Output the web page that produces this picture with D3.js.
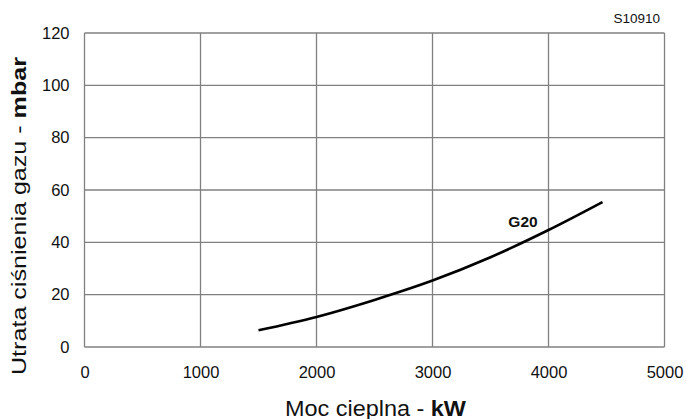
<!DOCTYPE html>
<html><head><meta charset="utf-8">
<script src="https://cdn.jsdelivr.net/npm/d3@7"></script>
<style>body{margin:0;background:#fff}svg{display:block;font-family:"Liberation Sans",Arial,sans-serif}</style>
</head><body>
<svg id="c" width="686" height="419"></svg>
<script>
const xTicks = [0, 1000, 2000, 3000, 4000, 5000];
const yTicks = [0, 20, 40, 60, 80, 100, 120];
const powerKW = [1500, 2000, 2500, 3000, 3500, 4000, 4466];
const pressureG20 = [6.4, 11.5, 18.0, 25.4, 34.3, 44.7, 55.4];
const seriesLabel = "G20";
const codeLabel = "S10910";

const svg = d3.select("#c");
const L = 84.5, R = 664.5, T = 33, B = 347;
const x = d3.scaleLinear().domain([0, 5000]).range([L, R]);
const y = d3.scaleLinear().domain([0, 120]).range([B, T]);

const grid = svg.append("g").attr("stroke", "#808080").attr("stroke-width", 1.3).attr("fill", "none");
xTicks.forEach(v => grid.append("line").attr("x1", x(v)).attr("x2", x(v)).attr("y1", T).attr("y2", B));
yTicks.forEach(v => grid.append("line").attr("x1", L).attr("x2", R).attr("y1", y(v)).attr("y2", y(v)));

const xa = svg.append("g").attr("transform", `translate(0,${B})`)
  .call(d3.axisBottom(x).tickValues(xTicks).tickSize(0).tickPadding(0).tickFormat(d3.format("d")));
xa.select(".domain").remove();
xa.attr("font-size", 16.5).attr("font-family", "Liberation Sans, Arial, sans-serif");
xa.selectAll("text").attr("dy", null).attr("y", 31).attr("fill", "#111");

const ya = svg.append("g").attr("transform", `translate(${L},0)`)
  .call(d3.axisLeft(y).tickValues(yTicks).tickSize(0).tickPadding(15).tickFormat(d3.format("d")));
ya.select(".domain").remove();
ya.attr("font-size", 16.5).attr("font-family", "Liberation Sans, Arial, sans-serif");
ya.selectAll("text").attr("fill", "#111");

const line = d3.line().x((d, i) => x(powerKW[i])).y(d => y(d)).curve(d3.curveMonotoneX);
svg.append("path").attr("d", line(pressureG20)).attr("fill", "none").attr("stroke", "#000").attr("stroke-width", 2.6);

svg.append("text").attr("x", 523).attr("y", 226.5).attr("text-anchor", "middle")
  .attr("font-size", 15.5).attr("font-weight", "bold").attr("fill", "#111").text(seriesLabel);

svg.append("text").attr("x", 660).attr("y", 22.5).attr("text-anchor", "end")
  .attr("font-size", 13.5).attr("fill", "#111").text(codeLabel);

const xt = svg.append("text").attr("x", 285).attr("y", 415.5).attr("font-size", 22).attr("fill", "#111")
  .attr("textLength", 181).attr("lengthAdjust", "spacingAndGlyphs");
xt.append("tspan").text("Moc cieplna - ");
xt.append("tspan").attr("font-weight", "bold").text("kW");

const yt = svg.append("text").attr("transform", "translate(26,375) rotate(-90)").attr("font-size", 20.5).attr("fill", "#111")
  .attr("textLength", 318).attr("lengthAdjust", "spacingAndGlyphs");
yt.append("tspan").text("Utrata ciśnienia gazu - ");
yt.append("tspan").attr("font-weight", "bold").text("mbar");
</script>
</body></html>
